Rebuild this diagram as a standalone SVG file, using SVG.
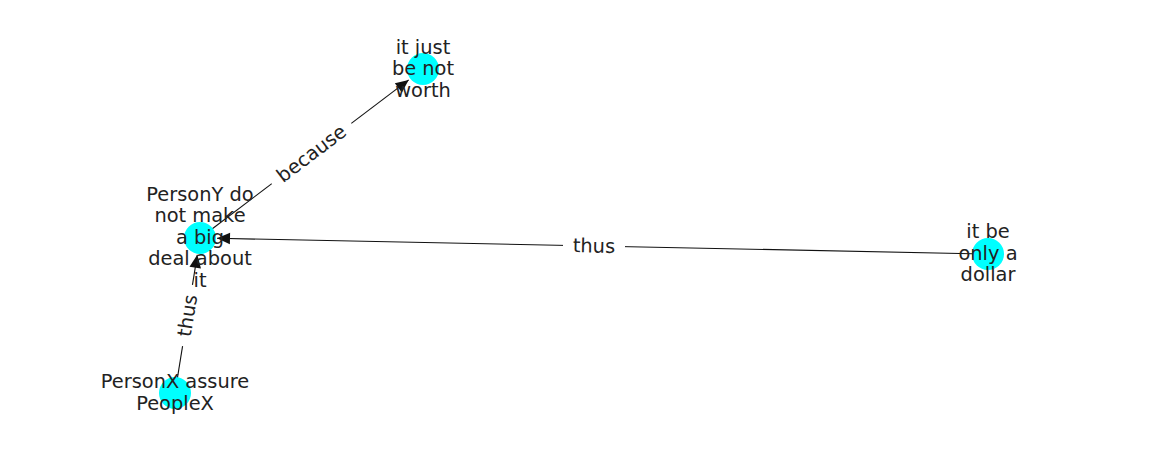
<svg xmlns="http://www.w3.org/2000/svg" width="1162" height="462" viewBox="0 0 1162 462">
<style>
text{font-family:"DejaVu Sans",sans-serif;font-size:19.4px;fill:#222;text-anchor:middle}
.edge{stroke:#111;stroke-width:1.1;fill:none}
.node{fill:#00ffff}
.lblbg{fill:#fff}
</style>
<defs>
<marker id="arr" markerUnits="userSpaceOnUse" markerWidth="16" markerHeight="14" viewBox="0 0 16 14" refX="14" refY="7" orient="auto">
<path d="M1,1.2 L14,7 L1,12.8 Z" fill="#111"/>
</marker>
</defs>
<rect width="1162" height="462" fill="#fff"/>
<g id="connectors">
<line class="edge" x1="212" y1="229" x2="408.7" y2="79.9" marker-end="url(#arr)"/>
<line class="edge" x1="972" y1="253.7" x2="217" y2="238.3" marker-end="url(#arr)"/>
<line class="edge" x1="177.4" y1="378.2" x2="197.3" y2="254.8" marker-end="url(#arr)"/>
<g transform="translate(311.5,153.5) rotate(-37.16)">
<rect class="lblbg" x="-50" y="-13" width="100" height="26"/>
<text y="6.5">because</text>
</g>
<g transform="translate(594,246) rotate(1.16)">
<rect class="lblbg" x="-31" y="-13" width="62" height="26"/>
<text y="6.5">thus</text>
</g>
<g transform="translate(187.5,315.5) rotate(-80.84)">
<rect class="lblbg" x="-31" y="-13" width="62" height="26"/>
<text y="6.5">thus</text>
</g>
</g>
<g id="node-worth">
<circle class="node" cx="423" cy="69" r="16"/>
<text x="423" y="53.5">it just</text>
<text x="423" y="75">be not</text>
<text x="423" y="97">worth</text>
</g>
<g id="node-persony">
<circle class="node" cx="200" cy="238" r="16"/>
<text x="200" y="200.5">PersonY do</text>
<text x="200" y="222">not make</text>
<text x="200" y="243.7">a big</text>
<text x="200" y="265.3">deal about</text>
<text x="200" y="287">it</text>
</g>
<g id="node-dollar">
<circle class="node" cx="988" cy="254" r="16"/>
<text x="988" y="238">it be</text>
<text x="988" y="259.5">only a</text>
<text x="988" y="281">dollar</text>
</g>
<g id="node-personx">
<circle class="node" cx="175" cy="393" r="16"/>
<text x="175" y="388">PersonX assure</text>
<text x="175" y="409.5">PeopleX</text>
</g>
</svg>
